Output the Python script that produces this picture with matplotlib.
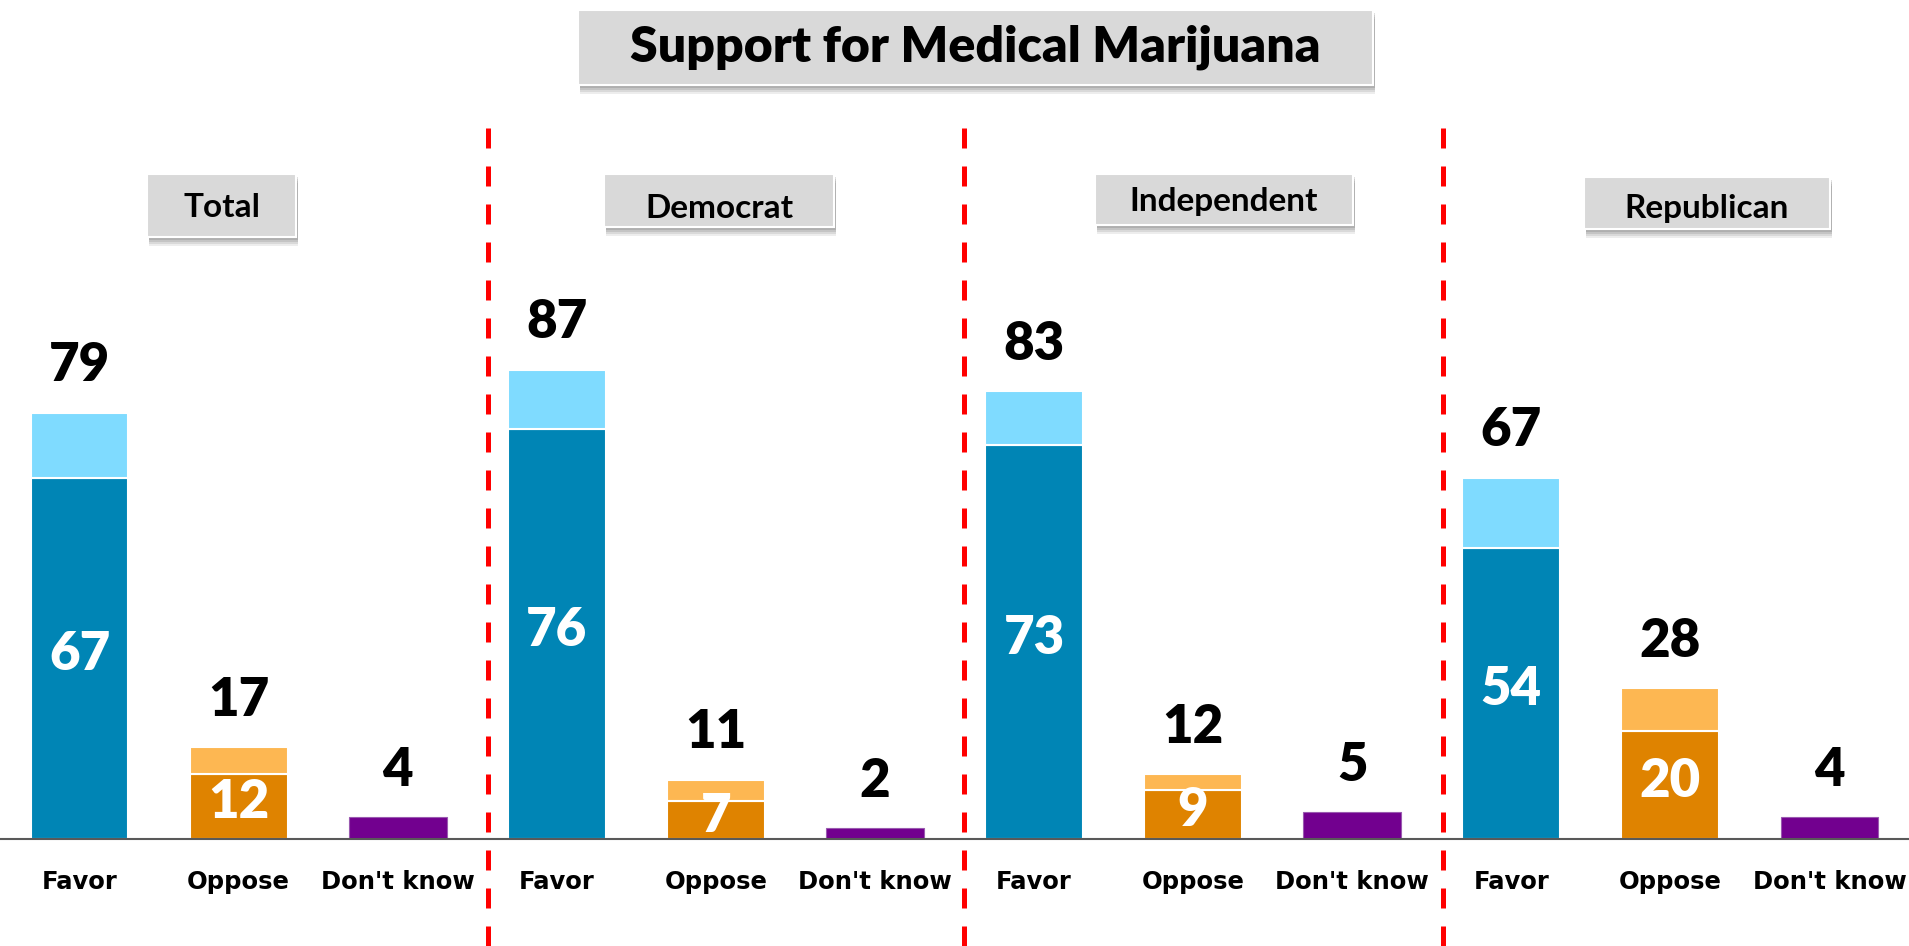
import numpy as np
import matplotlib.pyplot as plt
from matplotlib.patches import Rectangle

# Data
groups = ["Total", "Democrat", "Independent", "Republican"]
responses = ["Favor", "Oppose", "Don't know"]
favor_total = [79, 87, 83, 67]
favor_strong = [67, 76, 73, 54]
oppose_total = [17, 11, 12, 28]
oppose_strong = [12, 7, 9, 20]
dont_know = [4, 2, 5, 4]

# Colours
dark_blue = "#0085B5"
light_blue = "#7FDBFF"
dark_orange = "#DF8300"
light_orange = "#FDB752"
purple = "#72008F"
box_gray = "#D9D9D9"

W, H = 1909, 946
fig = plt.figure(figsize=(W / 100, H / 100), dpi=100)
fig.patch.set_facecolor("white")

base_px = 839  # baseline, pixels from top
unit_px = 5.394  # pixels per percent
ax = fig.add_axes([0, (H - base_px) / H, 1, base_px / H])
ax.set_xlim(-0.5, 11.5)
ax.set_ylim(0, base_px / unit_px)

n = len(groups)
x_favor = np.arange(n) * 3
x_oppose = x_favor + 1
x_dk = x_favor + 2
bw = 0.615

# Favor: strong (dark) + rest (light)
fav_rest = np.array(favor_total) - np.array(favor_strong)
opp_rest = np.array(oppose_total) - np.array(oppose_strong)
ax.bar(x_favor, favor_strong, bw, color=dark_blue, edgecolor="white", linewidth=1.5, zorder=2)
ax.bar(x_favor, fav_rest, bw, bottom=favor_strong, color=light_blue, edgecolor="white", linewidth=1.5, zorder=2)
ax.bar(x_oppose, oppose_strong, bw, color=dark_orange, edgecolor="white", linewidth=1.5, zorder=2)
ax.bar(x_oppose, opp_rest, bw, bottom=oppose_strong, color=light_orange, edgecolor="white", linewidth=1.5, zorder=2)
ax.bar(x_dk, dont_know, bw, color=purple, edgecolor="#9A5AB0", linewidth=0.8, zorder=2)

num_font = dict(family=["Lato", "DejaVu Sans"], fontweight="heavy", fontsize=38)

# totals above the bars
for xs, vals in [(x_favor, favor_total), (x_oppose, oppose_total), (x_dk, dont_know)]:
    for x, v in zip(xs, vals):
        ax.text(x, v + 8.7, str(v), ha="center", va="center", color="black", zorder=4, **num_font)

# strong values inside the bars
for xs, vals in [(x_favor, favor_strong), (x_oppose, oppose_strong)]:
    for x, v in zip(xs, vals):
        ax.text(x, v / 2 + 0.7, str(v), ha="center", va="center", color="white", zorder=3, **num_font)

# x axis
ax.set_xticks(np.arange(3 * n))
ax.set_xticklabels(responses * n, fontfamily="DejaVu Sans", fontweight="bold", fontsize=17.5)
ax.tick_params(axis="x", length=0, pad=22)
ax.set_yticks([])
for s in ["top", "left", "right"]:
    ax.spines[s].set_visible(False)
ax.spines["bottom"].set_color("#595959")
ax.spines["bottom"].set_linewidth(1.5)
ax.set_facecolor("none")

# red dashed separators
for xs in [2.567, 5.56, 8.57]:
    fig.add_artist(plt.Line2D([(xs + 0.5) / 12] * 2, [0, 1 - 122 / H], color="red",
                              lw=3.6, linestyle=(0, (4, 3.6)), zorder=1))


def box(x0, y0, x1, y1, text, size, ty=None, weight="bold"):
    # pixel coords from top-left
    fx, fy = x0 / W, 1 - y1 / H
    fw, fh = (x1 - x0) / W, (y1 - y0) / H
    for i, a in enumerate([0.10, 0.12, 0.15, 0.18]):
        off = 9 - 2 * i
        fig.add_artist(Rectangle((fx + 2 / W, fy - off / H), fw, fh, transform=fig.transFigure,
                                 facecolor="#505050", edgecolor="none", alpha=a, zorder=5))
    fig.add_artist(Rectangle((fx, fy), fw, fh, transform=fig.transFigure,
                             facecolor=box_gray, edgecolor="white", linewidth=1.5, zorder=6))
    if ty is None:
        ty = (y0 + y1) / 2
    fig.text((x0 + x1) / 2 / W, 1 - ty / H, text, ha="center", va="center",
             family=["Lato", "DejaVu Sans"], fontweight=weight, fontsize=size, zorder=7)


box(578, 10, 1373, 85, "Support for Medical Marijuana", 36, ty=47, weight="heavy")
box(147, 174, 296, 237, groups[0], 24, ty=207)
box(604, 174, 834, 227, groups[1], 24, ty=208)
box(1095, 174, 1353, 225, groups[2], 24, ty=202)
box(1584, 177, 1830, 229, groups[3], 24, ty=208)

plt.savefig("out.png", dpi=100)
plt.close()
